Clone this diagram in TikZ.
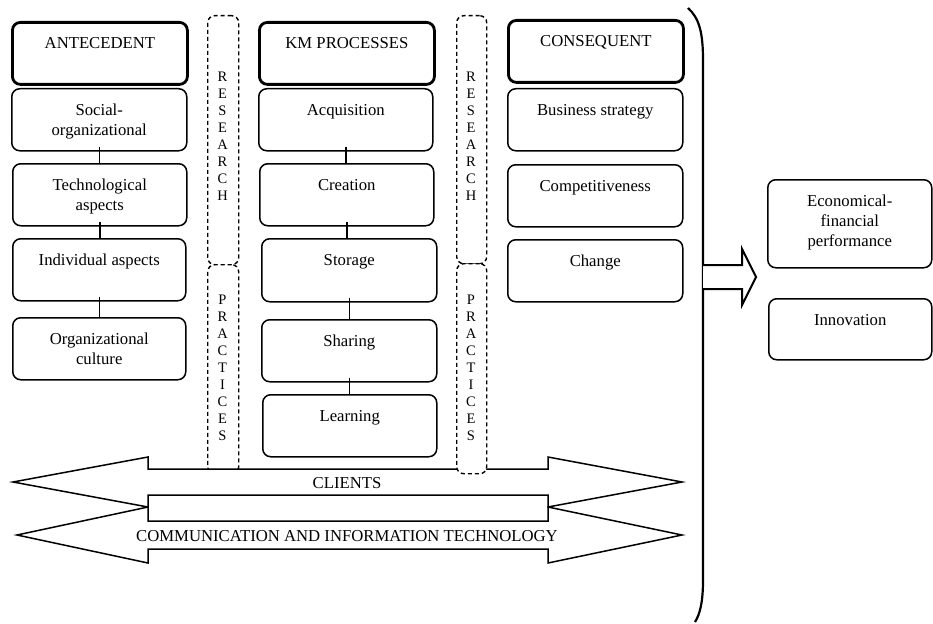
\documentclass[tikz,border=0pt]{standalone}
\usepackage{fontspec}
\setmainfont{Liberation Serif}
\newcommand\mkbox[7]{%
  \node[#1, minimum width={(#5-#3)*1pt}, minimum height={(#6-#4)*1pt}] (#2) at (#3,#4) {};
  \node[lbl, yshift=-16pt] (#2-t) at (#2.north) {#7};}
\begin{document}
\begin{tikzpicture}[x=1pt,y=-1pt,
  box/.style={draw, rounded corners=8pt, line width=1.5pt, anchor=north west, inner sep=0pt},
  headbox/.style={box, line width=2.8pt},
  lbl/.style={font=\fontsize{16.7}{20}\selectfont, align=center, anchor=north, inner sep=0pt},
  dbox/.style={draw, dash pattern=on 4pt off 3pt, rounded corners=7pt, line width=1.4pt, anchor=north west, inner sep=0pt, fill=white},
  vtxt/.style={font=\fontsize{14.5}{17}\selectfont, align=center, inner sep=0pt},
  link/.style={line width=1.5pt},
  barrow/.style={draw, line width=1.5pt, fill=white, line join=miter}]
\useasboundingbox (0,0) rectangle (933,623);
% headers
\mkbox{headbox}{ant}{11}{21}{186}{83}{ANTECEDENT}
\mkbox{headbox}{km}{258}{21}{433}{83}{KM PROCESSES}
\mkbox{headbox}{con}{507}{19}{682}{81}{CONSEQUENT}
% antecedent column
\mkbox{box}{soc}{11}{88}{186}{150}{Social-\\organizational}
\mkbox{box}{tec}{12}{163}{186}{225}{Technological\\aspects}
\mkbox{box}{ind}{12}{238}{185}{300}{Individual aspects}
\mkbox{box}{org}{12}{317}{185}{379}{Organizational\\culture}
% km column
\mkbox{box}{acq}{258}{88}{432}{150}{Acquisition}
\mkbox{box}{cre}{259}{163}{433}{225}{Creation}
\mkbox{box}{sto}{261}{238}{436}{301}{Storage}
\mkbox{box}{sha}{261}{319}{436}{381}{Sharing}
\mkbox{box}{lea}{262}{394}{436}{456}{Learning}
% consequent column
\mkbox{box}{bus}{507}{88}{682}{150}{Business strategy}
\mkbox{box}{com}{507}{164}{682}{226}{Competitiveness}
\mkbox{box}{cha}{507}{239}{682}{301}{Change}
% outcomes
\mkbox{box}{eco}{767}{179}{931}{267}{Economical-\\financial\\performance}
\mkbox{box}{inn}{768}{298}{931}{359}{Innovation}
% links
\draw[link] ([yshift=5pt]soc.south) -- (soc.south |- tec.north);
\draw[link] ([yshift=5pt]tec.south) -- (tec.south |- ind.north);
\draw[link] ([yshift=5pt]ind.south) -- (ind.south |- org.north);
\draw[link] ([yshift=5pt]acq.south) -- (acq.south |- cre.north);
\draw[link] ([yshift=5pt]cre.south) -- (cre.south |- sto.north);
\draw[link] ([yshift=5pt]sto.south) -- (sto.south |- sha.north);
\draw[link] ([yshift=5pt]sha.south) -- (sha.south |- lea.north);
% left research / practices column
\node[dbox, minimum width=31pt, minimum height=249pt] (resL) at (207,15) {};
\node[dbox, minimum width=31pt, minimum height=209pt] (praL) at (207,264) {};
\node[vtxt] (resL-t) at (222.5,136) {R\\E\\S\\E\\A\\R\\C\\H};
\node[vtxt] (praL-t) at (222.5,368) {P\\R\\A\\C\\T\\I\\C\\E\\S};
% double block arrows
\draw[barrow] (13,482) -- (148,457) -- (148,469) -- (548,469) -- (548,457) -- (682,482)
  -- (548,507) -- (548,495) -- (148,495) -- (148,507) -- cycle;
\draw[barrow] (17,535) -- (148,507) -- (148,521) -- (548,521) -- (548,507) -- (682,535)
  -- (548,563) -- (548,549) -- (148,549) -- (148,563) -- cycle;
\node[font=\fontsize{16.7}{20}\selectfont, inner sep=0pt] (cli) at (347,483) {CLIENTS};
\node[font=\fontsize{16.7}{20}\selectfont, inner sep=0pt] (cit) at (347,536) {COMMUNICATION AND INFORMATION TECHNOLOGY};
% right research / practices column
\node[dbox, minimum width=30pt, minimum height=248pt] (resR) at (456,15) {};
\node[dbox, minimum width=30pt, minimum height=210pt] (praR) at (456,263) {};
\node[vtxt] (resR-t) at (471,136) {R\\E\\S\\E\\A\\R\\C\\H};
\node[vtxt] (praR-t) at (471,368) {P\\R\\A\\C\\T\\I\\C\\E\\S};
% bracket
\draw[line width=2.2pt] (688,8) .. controls (699,18) and (703,32) .. (703,60) -- (703,580)
  .. controls (703,602) and (700,614) .. (695,622);
% right block arrow
\draw[line width=2pt, fill=white, line join=miter] (703,265) -- (742,265) -- (742,249) -- (756,277)
  -- (742,305) -- (742,289) -- (703,289);
\end{tikzpicture}
\end{document}
